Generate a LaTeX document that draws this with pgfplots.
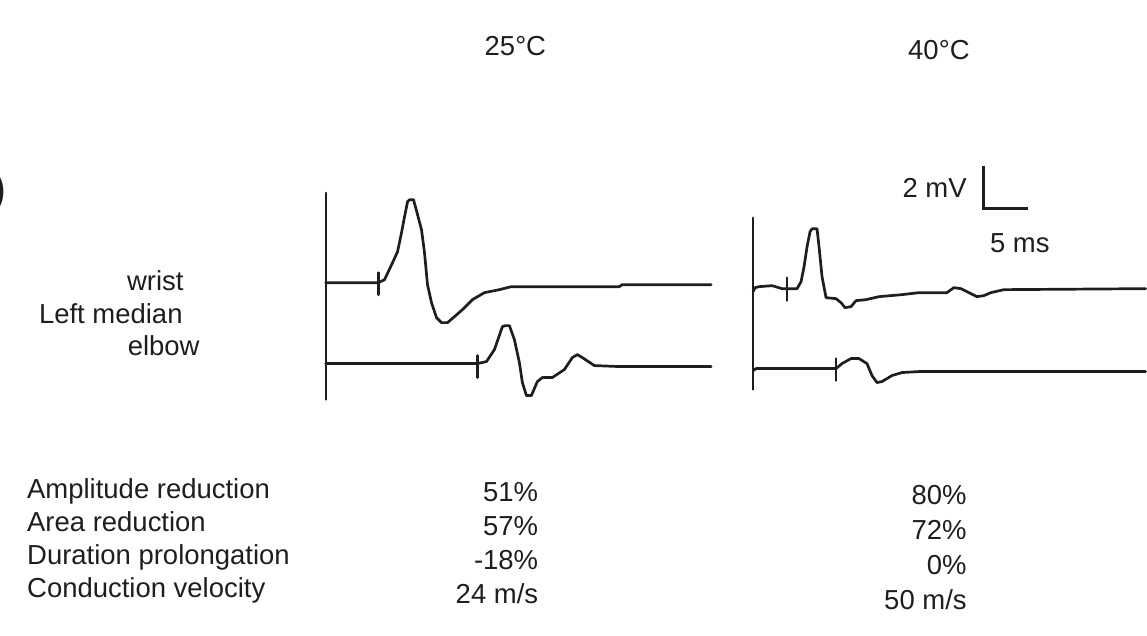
\documentclass[border=0pt]{standalone}
\usepackage{pgfplots}
\pgfplotsset{compat=1.18}
\usepackage{fontspec}
\setmainfont{Liberation Sans}
\definecolor{ink}{HTML}{1E1E1E}
\pgfplotsset{trace/.style={ink, line width=2.7pt, line join=round, line cap=round, mark=none}}
\begin{document}
\begin{tikzpicture}
\begin{axis}[
  width=1147pt, height=636pt, scale only axis,
  xmin=0, xmax=1147, ymin=0, ymax=636, y dir=reverse,
  axis lines=none, clip=false,
  nodes={font=\fontsize{27.5}{32}\selectfont, text=ink, inner sep=0pt},
]
\path (rel axis cs:0,0) rectangle (rel axis cs:1,1);
% ---- 25 C panel ----
\addplot[trace, line width=2pt] coordinates {(326,193) (326,400)};
% wrist trace
\addplot[trace] coordinates {(326,283) (379,283) (385,280) (393,263) (398,252) (402,233) (405,217) (408,202) (410,200) (414,200) (417,211) (422,230) (425,253) (428,285) (432,303) (437,318) (442,323) (448,323) (455,317) (463,310) (473,300) (485,293) (500,290) (512,287) (540,287) (620,287) (623,285) (712,285)};
\addplot[trace] coordinates {(379,273) (379,295)};
% elbow trace
\addplot[trace] coordinates {(326,364) (478,364) (487,362) (495,350) (503,327) (506,326) (510,326) (515,340) (520,363) (523,383) (527,396) (532,396) (538,382) (543,378) (553,378) (565,370) (573,358) (578,355) (583,358) (595,366) (620,367) (712,367)};
\addplot[trace] coordinates {(478,356) (478,378)};
% ---- 40 C panel ----
\addplot[trace, line width=2pt] coordinates {(754,218) (754,390)};
\addplot[trace] coordinates {(754,292) (756,288) (760,287) (773,286) (783,289) (798,289) (802,282) (805,267) (808,247) (811,232) (813,229) (818,229) (820,247) (823,277) (827,298) (837,299) (842,303) (846,308) (852,307) (857,301) (867,300) (880,297) (903,295) (920,293) (948,293) (955,288) (962,289) (970,293) (978,297) (985,296) (992,293) (1005,290) (1147,289)};
\addplot[trace] coordinates {(788,278) (788,301)};
\addplot[trace] coordinates {(754,371) (757,369) (837,369) (843,364) (852,359) (860,359) (868,364) (873,376) (878,383) (883,382) (893,376) (903,373) (920,372) (1147,372)};
\addplot[trace] coordinates {(837,359) (837,381)};
% scale bar
\addplot[trace, line width=3pt, line cap=butt, line join=miter] coordinates {(985,166) (985,209) (1029,209)};
% ---- text ----
\node[overlay, anchor=east, font=\fontsize{40}{40}\selectfont\bfseries] at (axis cs:6,192) {)};
\node at (axis cs:516,46) {25°C};
\node at (axis cs:940,50) {40°C};
\node[anchor=east] at (axis cs:968,188) {2 mV};
\node at (axis cs:1021,243) {5 ms};
\node[anchor=base east] at (axis cs:184,291) {wrist};
\node[anchor=base east] at (axis cs:183,324) {Left median};
\node[anchor=base east] at (axis cs:200,356) {elbow};
\node[anchor=base west] at (axis cs:27,499) {Amplitude reduction};
\node[anchor=base west] at (axis cs:27,532) {Area reduction};
\node[anchor=base west] at (axis cs:27,565) {Duration prolongation};
\node[anchor=base west] at (axis cs:27,598) {Conduction velocity};
\node[anchor=base east] at (axis cs:539,502) {51\%};
\node[anchor=base east] at (axis cs:539,536) {57\%};
\node[anchor=base east] at (axis cs:539,570) {-18\%};
\node[anchor=base east] at (axis cs:539,604) {24 m/s};
\node[anchor=base east] at (axis cs:968,505) {80\%};
\node[anchor=base east] at (axis cs:968,540) {72\%};
\node[anchor=base east] at (axis cs:968,575) {0\%};
\node[anchor=base east] at (axis cs:968,610) {50 m/s};
\end{axis}
\end{tikzpicture}
\end{document}
